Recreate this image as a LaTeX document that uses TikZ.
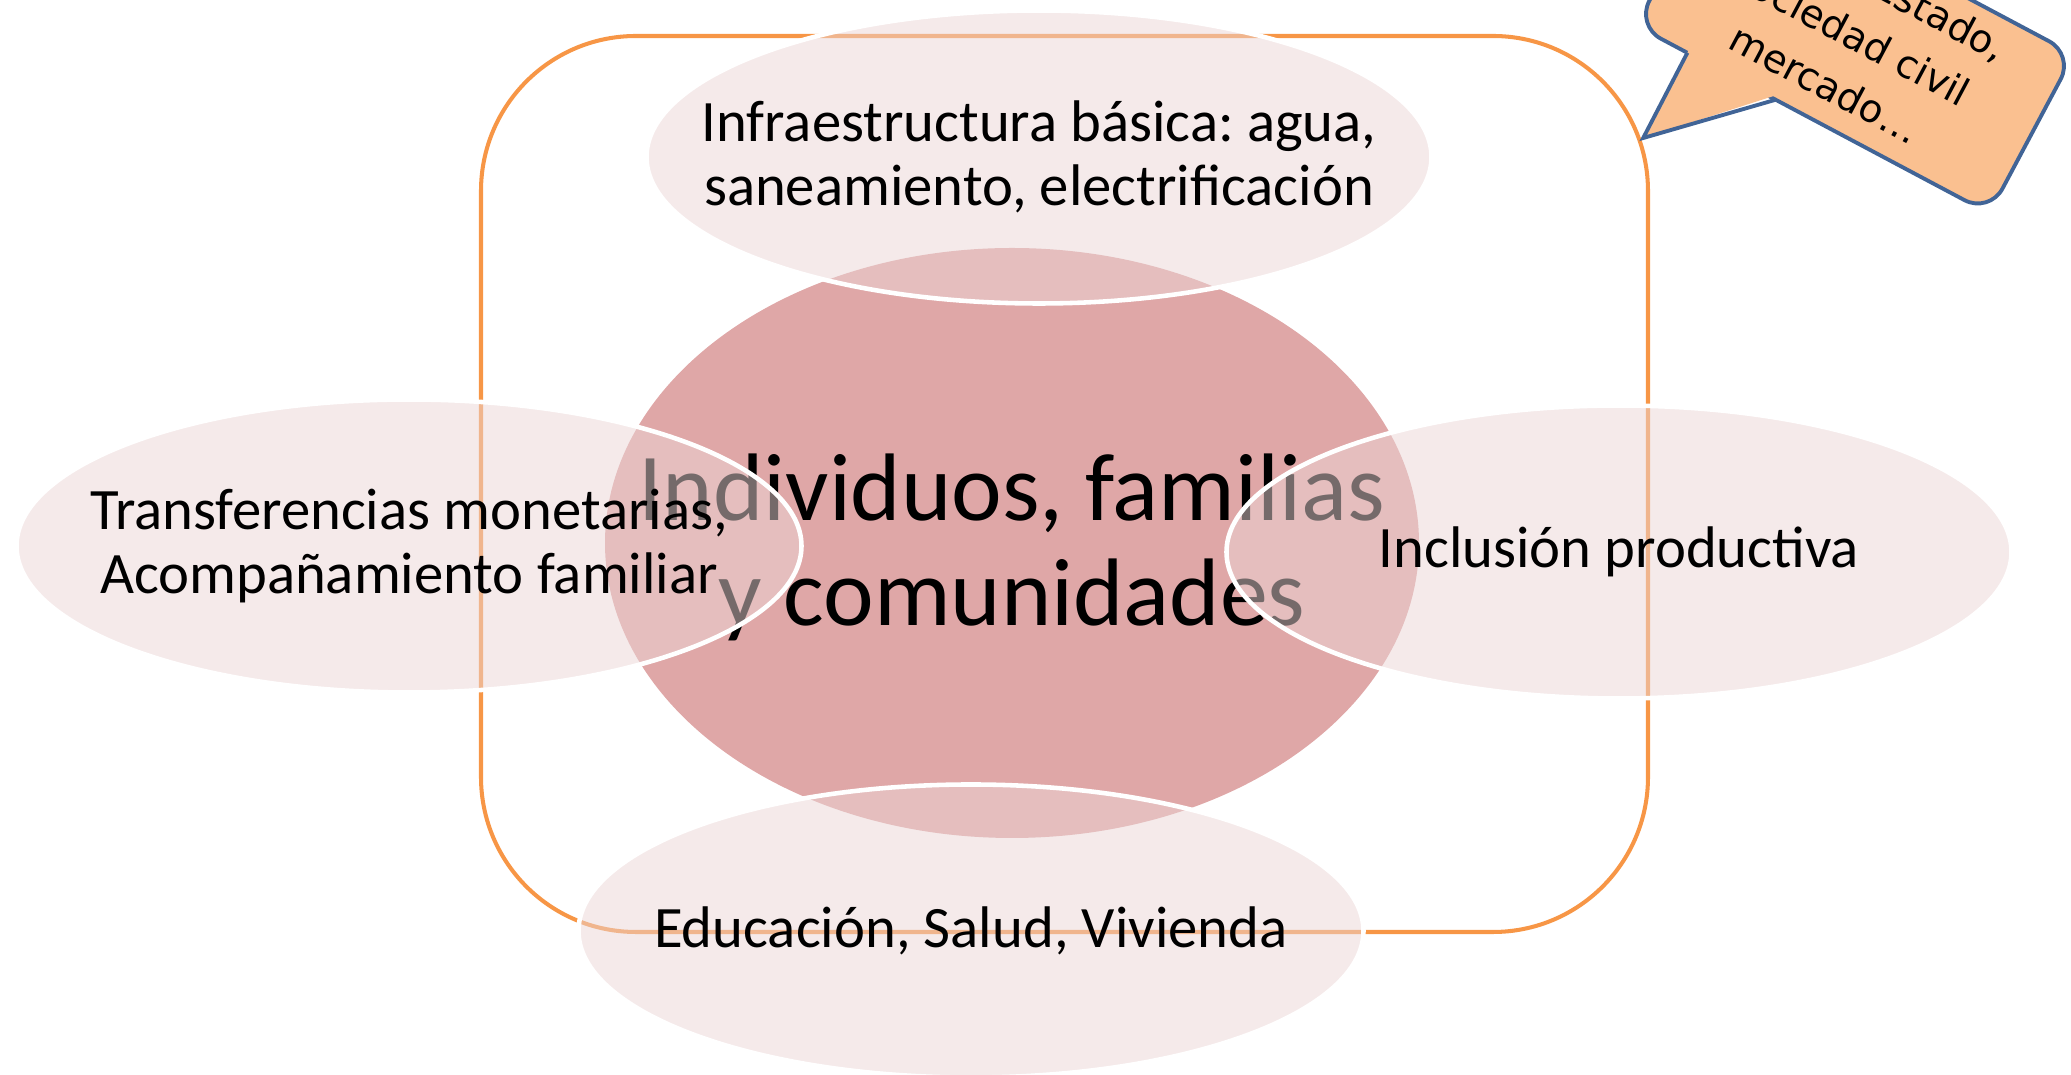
\documentclass[tikz,border=0pt]{standalone}
\usepackage{fontspec}
\setmainfont{Carlito}
\newfontfamily\globofont{DejaVu Sans}
\usetikzlibrary{shapes.geometric}

\definecolor{marco}{RGB}{247,150,70}
\definecolor{centrofill}{RGB}{223,167,167}
\definecolor{areafill}{RGB}{235,213,213}
\definecolor{globofill}{RGB}{250,192,144}
\definecolor{globoline}{RGB}{65,100,150}

\frenchspacing

\begin{document}
\begin{tikzpicture}[
    area/.style={ellipse, draw=white, line width=1.3pt, fill=areafill,
        fill opacity=0.5, minimum width=7.85cm, minimum height=2.93cm, inner sep=0pt},
    lbl/.style={align=center, font=\fontsize{16.7}{18.4}\selectfont},
    globo/.style={draw=globoline, line width=1.1pt, fill=globofill,
        rounded corners=0.28cm, minimum width=4cm, minimum height=1.8cm, inner sep=0pt},
    globolbl/.style={inner sep=0pt, font=\globofont\fontsize{11}{16}\selectfont}
]
    \useasboundingbox (0,0) rectangle (20.71,-10.75);
    \clip (0,0) rectangle (20.71,-10.75);

    % marco naranja
    \draw[marco, line width=1.15pt, rounded corners=1.55cm] (4.81,-0.36) rectangle (16.48,-9.32);

    % centro
    \node[ellipse, fill=centrofill, minimum width=8.14cm, minimum height=5.9cm, inner sep=0pt]
        (centro) at (10.12,-5.43) {};
    \node[align=center, font=\fontsize{27.3}{29.9}\selectfont] (centrotxt) at (10.12,-5.47)
        {Individuos, familias\\y comunidades};

    % areas
    \node[area] (infra) at (10.39,-1.57) {};
    \node[area] (transf) at (4.09,-5.46) {};
    \node[area] (inclus) at (16.19,-5.52) {};
    \node[area] (educ) at (9.71,-9.31) {};

    \node[lbl] (infratxt) at (infra) {Infraestructura básica: agua,\\saneamiento, electrificación};
    \node[lbl] (transftxt) at (transf) {Transferencias monetarias,\\Acompañamiento familiar};
    \node[lbl] (inclustxt) at (inclus) {Inclusión productiva};
    \node[lbl] (eductxt) at (educ) {Educación, Salud, Vivienda};

    % globo
    \begin{scope}[shift={(18.55,-0.40)}, rotate=-28, transform shape]
        \node[globo] (globo) at (0,0) {};
        \coordinate (punta) at (-1.41,-1.86);
        \fill[globofill] (-1.42,-0.84) -- (punta) -- (-0.42,-0.84) -- cycle;
        \draw[globoline, line width=1.1pt, line join=miter] (-1.42,-0.9) -- (punta) -- (-0.42,-0.9);
        \node[globolbl, anchor=base east] (linea1) at (1.37,0.47) {Estado,};
        \node[globolbl, anchor=base] (linea2) at (-0.06,-0.10) {sociedad civil};
        \node[globolbl, anchor=base] (linea3) at (-0.06,-0.67) {mercado…};
    \end{scope}
\end{tikzpicture}
\end{document}
